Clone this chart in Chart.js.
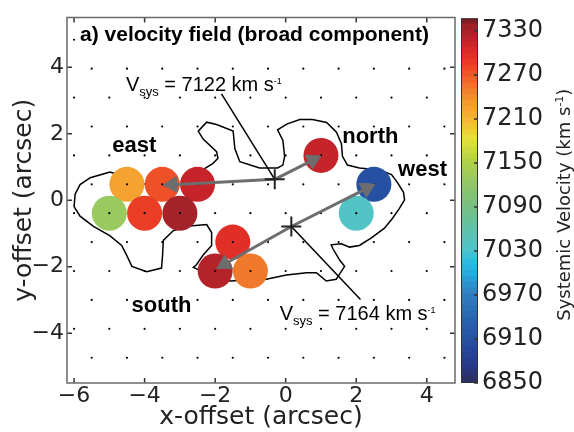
<!DOCTYPE html>
<html>
<head>
<meta charset="utf-8">
<script src="https://cdn.jsdelivr.net/npm/chart.js@4/dist/chart.umd.min.js"></script>
<style>
  html, body { margin: 0; padding: 0; background: #fff; }
  #wrap { position: relative; width: 574px; height: 432px; }
  #main { position: absolute; left: 0; top: 0; }
  #cbar { position: absolute; left: 455px; top: 0; }
</style>
</head>
<body>
<div id="wrap">
  <canvas id="main" width="574" height="432"></canvas>
  <canvas id="cbar" width="119" height="432"></canvas>
</div>
<script>
// fibre centres (arcsec) and their systemic velocities (km/s)
const fibreX   = [-4.5, -3.5, -2.5, -5.0, -4.0, -3.0, 1.0, 2.5, 2.0, -1.5, -2.0, -1.0];
const fibreY   = [0.48, 0.48, 0.48, -0.39, -0.39, -0.39, 1.35, 0.48, -0.39, -1.26, -2.13, -2.13];
const fibreVel = [7222, 7272, 7312, 7127, 7283, 7330, 7313, 6906, 7035, 7295, 7322, 7250];

// fibre grid (small dots): rows alternate between integer and half offsets
const dotRowY = [4.83, 3.96, 3.09, 2.22, 1.35, 0.48, -0.39, -1.26, -2.13, -3.0, -3.87, -4.74];
const intX  = [-6, -5, -4, -3, -2, -1, 0, 1, 2, 3, 4];
const halfX = [-5.5, -4.5, -3.5, -2.5, -1.5, -0.5, 0.5, 1.5, 2.5, 3.5, 4.5];

// continuum contour
const contourX = [-4.98, -5.54, -5.83, -5.97, -6.00, -5.83, -5.46, -4.98, -4.65, -4.51,
                  -4.36, -3.94, -3.52, -3.49, -3.47, -3.19, -2.81, -2.24, -2.10, -2.10,
                  -2.34, -2.53, -2.62, -2.48, -2.15, -1.58, -0.55, 0.02, 0.59, 0.87,
                  1.15, 1.43, 1.67, 1.53, 1.34, 1.29, 1.58, 1.81, 2.09, 2.43,
                  2.80, 3.03, 3.22, 3.37, 3.34, 3.17, 3.00, 2.66, 2.09, 1.75,
                  1.61, 1.58, 1.44, 1.16, 0.76, 0.40, 0.03, -0.23, -0.08, -0.03,
                  -0.08, -0.23, -0.74, -1.30, -1.44, -1.49, -1.96, -2.24, -2.48, -2.34,
                  -1.96, -1.92, -2.06, -3.00, -4.01, -4.98];
const contourY = [0.85, 0.68, 0.47, 0.18, -0.19, -0.48, -0.78, -1.07, -1.36, -1.65,
                  -1.99, -2.15, -2.04, -1.65, -1.21, -0.92, -0.78, -0.73, -0.97, -1.36,
                  -1.65, -1.94, -2.02, -2.09, -2.38, -2.43, -2.38, -2.25, -2.18, -2.18,
                  -2.43, -2.38, -1.99, -1.80, -1.46, -1.34, -1.31, -1.41, -1.36, -1.13,
                  -0.84, -0.54, -0.25, 0.01, 0.24, 0.53, 0.77, 0.91, 0.97, 1.06,
                  1.32, 1.70, 2.05, 2.34, 2.43, 2.43, 2.29, 2.12, 1.80, 1.32,
                  1.06, 0.97, 0.97, 1.16, 1.55, 2.08, 2.28, 2.35, 2.08, 1.84,
                  1.46, 1.26, 1.11, 0.49, 0.49, 0.85];

// kinematic centres (V_sys) and arrow heads
const centreX = [-0.31, 0.16];
const centreY = [0.63, -0.79];
const arrowFrom = [0, 0, 1, 1];
const arrowHeadX = [-3.22, 0.77, 2.30, -1.73];
const arrowHeadY = [0.47, 1.21, 0.36, -1.92];
const leaderEndX = [-1.82, 2.12];
const leaderEndY = [3.20, -2.99];
const vsysLabels = ['7122', '7164'];

const xTicks = [-6, -4, -2, 0, 2, 4];
const yTicks = [-4, -2, 0, 2, 4];
const cbTicks = [6850, 6910, 6970, 7030, 7090, 7150, 7210, 7270, 7330];
const cbMin = 6850, cbMax = 7347;

// colour table
const cmap = [
  [6850, '#2a2f5e'], [6870, '#283888'], [6890, '#244498'], [6910, '#2654a4'],
  [6930, '#2860ac'], [6950, '#2a70b4'], [6970, '#2e80c0'], [6985, '#2c94d0'],
  [7000, '#28aee0'], [7015, '#30bce0'], [7030, '#50c4cc'], [7050, '#5cc2b4'],
  [7070, '#68c098'], [7090, '#78c080'], [7110, '#88c470'], [7130, '#9cca5c'],
  [7150, '#b0d048'], [7165, '#c8d840'], [7180, '#e6e340'], [7195, '#f0c838'],
  [7210, '#f5b033'], [7230, '#f39a2f'], [7250, '#f07a2c'], [7270, '#ef5427'],
  [7285, '#ea3a26'], [7300, '#dd2a28'], [7315, '#c0232a'], [7335, '#9b2228'],
  [7347, '#6e1a1e']
];

function hexRgb(h) {
  return [1, 3, 5].map(i => parseInt(h.substr(i, 2), 16));
}
function velColor(v) {
  if (v <= cmap[0][0]) return cmap[0][1];
  for (let i = 1; i < cmap.length; i++) {
    if (v <= cmap[i][0]) {
      const t = (v - cmap[i - 1][0]) / (cmap[i][0] - cmap[i - 1][0]);
      const a = hexRgb(cmap[i - 1][1]), b = hexRgb(cmap[i][1]);
      const c = a.map((av, k) => Math.round(av + (b[k] - av) * t));
      return 'rgb(' + c.join(',') + ')';
    }
  }
  return cmap[cmap.length - 1][1];
}

const fmtTick = v => (v < 0 ? '\u2212' + Math.abs(v) : String(v));
const AX_FONT = '"DejaVu Sans", sans-serif';
const TXT_FONT = '"Liberation Sans", Arial, Helvetica, sans-serif';

// text drawn inside the map
const plotTexts = [
  {x: -5.83, y: 4.78, align: 'left', bg: true, runs: [['a) velocity field (broad component)', 21, 'bold', 0]]},
  {x: -4.29, y: 1.46, align: 'center', runs: [['east', 22, 'bold', 0]]},
  {x: 2.40, y: 1.72, align: 'center', runs: [['north', 22, 'bold', 0]]},
  {x: 3.88, y: 0.73, align: 'center', runs: [['west', 22, 'bold', 0]]},
  {x: -3.52, y: -3.35, align: 'center', runs: [['south', 22, 'bold', 0]]},
  {x: -4.53, y: 3.30, align: 'left', runs: [['V', 20, 'normal', 0], ['sys', 13, 'normal', 5],
      [' = ' + vsysLabels[0] + ' km s', 20, 'normal', 0], ['-1', 9, 'normal', -7]]},
  {x: -0.17, y: -3.59, align: 'left', runs: [['V', 20, 'normal', 0], ['sys', 13, 'normal', 5],
      [' = ' + vsysLabels[1] + ' km s', 20, 'normal', 0], ['-1', 9, 'normal', -7]]}
];

const textPlugin = {
  id: 'plotTexts',
  afterDatasetsDraw(chart) {
    const {ctx, scales: {x, y}} = chart;
    ctx.save();
    ctx.textBaseline = 'alphabetic';
    ctx.textAlign = 'left';
    plotTexts.forEach(lbl => {
      let w = 0;
      lbl.runs.forEach(r => { ctx.font = r[2] + ' ' + r[1] + 'px ' + TXT_FONT; w += ctx.measureText(r[0]).width; });
      let px = x.getPixelForValue(lbl.x);
      const py = y.getPixelForValue(lbl.y);
      if (lbl.align === 'center') px -= w / 2;
      if (lbl.bg) {
        ctx.fillStyle = '#fff';
        ctx.fillRect(px - 3, py - 17, w + 6, 23);
      }
      ctx.fillStyle = '#000';
      lbl.runs.forEach(r => {
        ctx.font = r[2] + ' ' + r[1] + 'px ' + TXT_FONT;
        ctx.fillText(r[0], px, py + r[3]);
        px += ctx.measureText(r[0]).width;
      });
    });
    ctx.restore();
  }
};

// box round the map with inward ticks on all four sides
const framePlugin = {
  id: 'frame',
  afterDraw(chart) {
    const {ctx, chartArea: a, scales: {x, y}} = chart;
    ctx.save();
    ctx.strokeStyle = '#333';
    ctx.lineWidth = 1.5;
    ctx.beginPath();
    xTicks.forEach(v => {
      const p = x.getPixelForValue(v);
      ctx.moveTo(p, a.bottom); ctx.lineTo(p, a.bottom - 5);
      ctx.moveTo(p, a.top); ctx.lineTo(p, a.top + 5);
    });
    yTicks.forEach(v => {
      const p = y.getPixelForValue(v);
      ctx.moveTo(a.left, p); ctx.lineTo(a.left + 5, p);
      ctx.moveTo(a.right, p); ctx.lineTo(a.right - 5, p);
    });
    ctx.stroke();
    ctx.strokeStyle = '#6a6a6a';
    ctx.strokeRect(a.left, a.top, a.right - a.left, a.bottom - a.top);
    ctx.restore();
  }
};

const dotPoints = [];
dotRowY.forEach((ry, i) => {
  (i % 2 === 0 ? intX : halfX).forEach(px => dotPoints.push({x: px, y: ry}));
});

const arrowSets = arrowFrom.map((c, i) => ({
  data: [{x: centreX[c], y: centreY[c]}, {x: arrowHeadX[i], y: arrowHeadY[i]}],
  showLine: true,
  borderColor: '#6d6d6d',
  borderWidth: 3,
  pointRadius: [0, 9],
  pointStyle: 'triangle',
  pointBackgroundColor: '#6d6d6d',
  pointBorderColor: '#6d6d6d',
  pointBorderWidth: 1,
  pointRotation: ctx => {
    const ch = ctx.chart, d = ctx.dataset.data;
    const dx = ch.scales.x.getPixelForValue(d[1].x) - ch.scales.x.getPixelForValue(d[0].x);
    const dy = ch.scales.y.getPixelForValue(d[1].y) - ch.scales.y.getPixelForValue(d[0].y);
    return Math.atan2(dy, dx) * 180 / Math.PI + 90;
  },
  order: 0
}));

const leaderSets = leaderEndX.map((ex, i) => ({
  data: [{x: centreX[i], y: centreY[i]}, {x: ex, y: leaderEndY[i]}],
  showLine: true,
  borderColor: '#000',
  borderWidth: 1.5,
  pointRadius: 0,
  order: 1
}));

new Chart(document.getElementById('main'), {
  type: 'scatter',
  data: {
    datasets: [
      {
        data: centreX.map((cx, i) => ({x: cx, y: centreY[i]})),
        pointStyle: 'cross',
        pointRadius: 10,
        pointBorderWidth: 2,
        pointBorderColor: '#222',
        order: -1
      },
      ...arrowSets,
      ...leaderSets,
      {
        data: dotPoints,
        pointRadius: 1.1,
        pointBackgroundColor: '#000',
        pointBorderWidth: 0,
        order: 2
      },
      {
        data: fibreX.map((fx, i) => ({x: fx, y: fibreY[i]})),
        pointRadius: 17.5,
        pointBackgroundColor: fibreVel.map(velColor),
        pointBorderWidth: 0,
        order: 3
      },
      {
        data: contourX.map((cx, i) => ({x: cx, y: contourY[i]})),
        showLine: true,
        borderColor: '#000',
        borderWidth: 1.5,
        pointRadius: 0,
        tension: 0,
        order: 4
      }
    ]
  },
  options: {
    responsive: false,
    animation: false,
    events: [],
    layout: {padding: {left: 0, top: 5, right: 119, bottom: 0}},
    plugins: {legend: {display: false}, tooltip: {enabled: false}},
    scales: {
      x: {
        type: 'linear', min: -6.2, max: 4.8,
        afterBuildTicks: s => { s.ticks = xTicks.map(v => ({value: v})); },
        afterFit: s => { s.height = 49; },
        grid: {display: false, drawTicks: false},
        border: {display: false},
        ticks: {font: {family: AX_FONT, size: 22}, color: '#222', padding: 0, maxRotation: 0, autoSkip: false, callback: fmtTick},
        title: {display: true, text: 'x-offset (arcsec)', color: '#222', font: {family: AX_FONT, size: 25}, padding: {top: 0, bottom: 0}}
      },
      y: {
        type: 'linear', min: -5.5, max: 5.5,
        afterBuildTicks: s => { s.ticks = yTicks.map(v => ({value: v})); },
        afterFit: s => { s.width = 67; },
        grid: {display: false, drawTicks: false},
        border: {display: false},
        ticks: {font: {family: AX_FONT, size: 22}, color: '#222', padding: 3, autoSkip: false, callback: fmtTick},
        title: {display: true, text: 'y-offset (arcsec)', color: '#222', font: {family: AX_FONT, size: 25}, padding: {top: 9, bottom: 0}}
      }
    }
  },
  plugins: [textPlugin, framePlugin]
});

// colour bar
const bandStep = 8;
const bands = [];
for (let lo = cbMin; lo < cbMax; lo += bandStep) {
  const hi = Math.min(lo + bandStep, cbMax);
  bands.push({lo: lo, hi: hi, col: velColor((lo + hi) / 2)});
}

const cbarPlugin = {
  id: 'cbarDecor',
  afterDraw(chart) {
    const {ctx, chartArea: a, scales: {y}} = chart;
    ctx.save();
    ctx.strokeStyle = '#333';
    ctx.lineWidth = 1;
    ctx.strokeRect(a.left + 0.5, a.top + 0.5, a.right - a.left - 1, a.bottom - a.top - 1);
    ctx.lineWidth = 1.5;
    ctx.beginPath();
    cbTicks.forEach(v => {
      const p = y.getPixelForValue(v);
      ctx.moveTo(a.right, p); ctx.lineTo(a.right - 4, p);
    });
    ctx.stroke();
    // rotated colour bar title
    const runs = [['Systemic Velocity (km s', 18, 0], ['-1', 11, -7], [')', 18, 0]];
    let w = 0;
    runs.forEach(r => { ctx.font = r[1] + 'px ' + AX_FONT; w += ctx.measureText(r[0]).width; });
    ctx.translate(115, (a.top + a.bottom) / 2 + 4);
    ctx.rotate(-Math.PI / 2);
    ctx.fillStyle = '#222';
    ctx.textBaseline = 'alphabetic';
    let px = -w / 2;
    runs.forEach(r => {
      ctx.font = r[1] + 'px ' + AX_FONT;
      ctx.fillText(r[0], px, r[2]);
      px += ctx.measureText(r[0]).width;
    });
    ctx.restore();
  }
};

new Chart(document.getElementById('cbar'), {
  type: 'bar',
  data: {
    labels: ['v'],
    datasets: bands.map(b => ({
      data: [[b.lo, b.hi + 1.5]],
      backgroundColor: b.col,
      borderWidth: 0,
      grouped: false,
      barPercentage: 1,
      categoryPercentage: 1
    }))
  },
  options: {
    responsive: false,
    animation: false,
    events: [],
    layout: {padding: {left: 6, top: 5, right: 0, bottom: 49}},
    plugins: {legend: {display: false}, tooltip: {enabled: false}},
    scales: {
      x: {display: false},
      y: {
        position: 'right', min: cbMin, max: cbMax,
        afterBuildTicks: s => { s.ticks = cbTicks.map(v => ({value: v})); },
        afterFit: s => { s.width = 96; },
        grid: {display: false, drawTicks: false},
        border: {display: false},
        ticks: {font: {family: AX_FONT, size: 24}, color: '#222', padding: 4, autoSkip: false, callback: v => String(v)}
      }
    }
  },
  plugins: [cbarPlugin]
});
</script>
</body>
</html>
